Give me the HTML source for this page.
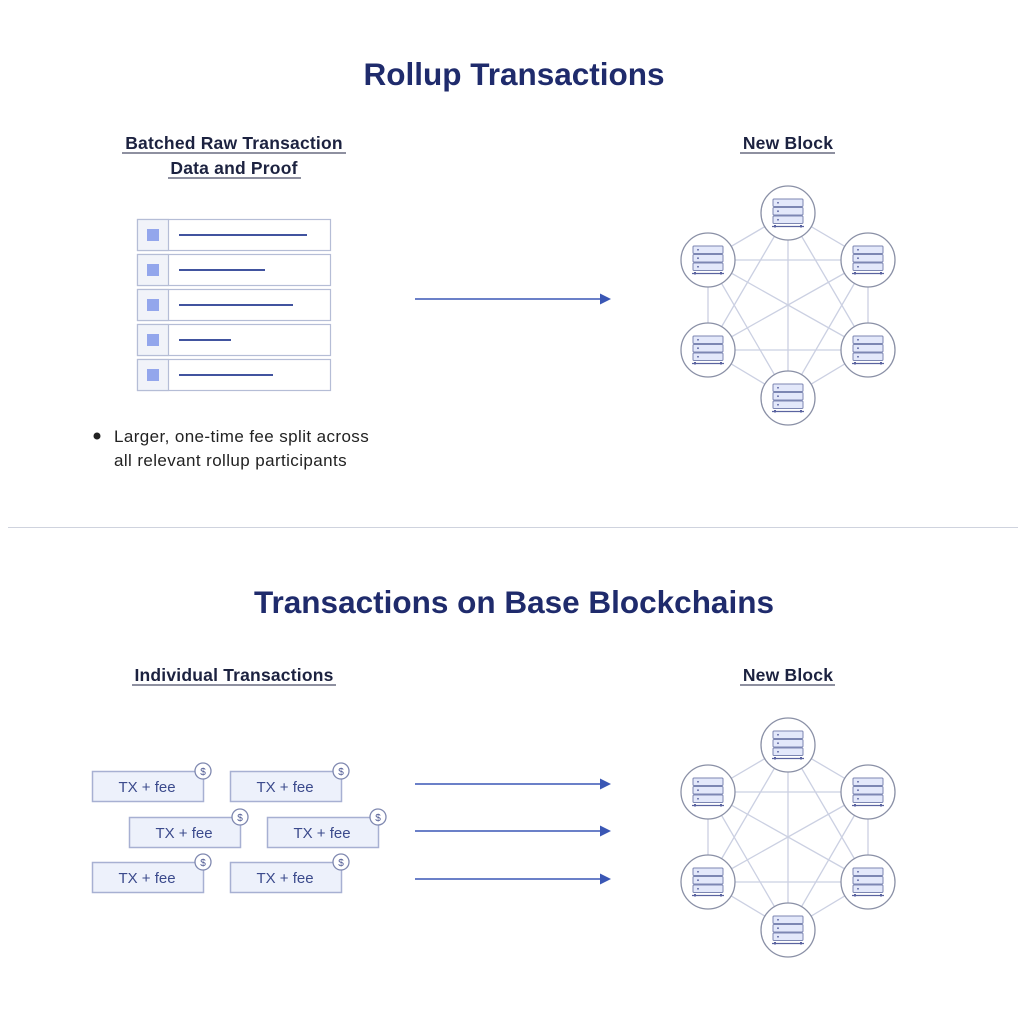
<!DOCTYPE html>
<html><head><meta charset="utf-8"><style>
body{margin:0;background:#fff;}
svg{display:block;}
text{font-family:"Liberation Sans",sans-serif;}
</style></head><body>
<svg width="1029" height="1011" viewBox="0 0 1029 1011" xmlns="http://www.w3.org/2000/svg">
<defs>
<g id="node">
<circle cx="0" cy="0" r="27" fill="#fff" stroke="#8a90a6" stroke-width="1.3"/>
<rect x="-15" y="-14" width="30" height="7.5" rx="1" fill="#e3e8fa" stroke="#7c86b2" stroke-width="1"/>
<rect x="-15" y="-5.5" width="30" height="7.5" rx="1" fill="#e3e8fa" stroke="#7c86b2" stroke-width="1"/>
<rect x="-15" y="3" width="30" height="7.5" rx="1" fill="#e3e8fa" stroke="#7c86b2" stroke-width="1"/>
<circle cx="-10" cy="-10.2" r="0.9" fill="#5a63a0"/>
<circle cx="-10" cy="-1.8" r="0.9" fill="#5a63a0"/>
<circle cx="-10" cy="6.8" r="0.9" fill="#5a63a0"/>
<line x1="-16" y1="13.5" x2="16" y2="13.5" stroke="#5a63a0" stroke-width="1.2"/>
<rect x="-14" y="12" width="2" height="2.5" fill="#5a63a0"/>
<rect x="12" y="12" width="2" height="2.5" fill="#5a63a0"/>
</g>
<g id="net">
<g stroke="#cbd0e2" stroke-width="1.3">
<line x1="788" y1="213" x2="708" y2="260"/><line x1="788" y1="213" x2="868" y2="260"/>
<line x1="788" y1="213" x2="708" y2="350"/><line x1="788" y1="213" x2="868" y2="350"/>
<line x1="788" y1="213" x2="788" y2="398"/><line x1="708" y1="260" x2="868" y2="260"/>
<line x1="708" y1="260" x2="708" y2="350"/><line x1="708" y1="260" x2="868" y2="350"/>
<line x1="708" y1="260" x2="788" y2="398"/><line x1="868" y1="260" x2="708" y2="350"/>
<line x1="868" y1="260" x2="868" y2="350"/><line x1="868" y1="260" x2="788" y2="398"/>
<line x1="708" y1="350" x2="868" y2="350"/><line x1="708" y1="350" x2="788" y2="398"/>
<line x1="868" y1="350" x2="788" y2="398"/>
</g>
<use href="#node" x="788" y="213"/><use href="#node" x="708" y="260"/>
<use href="#node" x="868" y="260"/><use href="#node" x="708" y="350"/>
<use href="#node" x="868" y="350"/><use href="#node" x="788" y="398"/>
</g>
<g id="arrow">
<line x1="415" y1="0" x2="602" y2="0" stroke="#3a57b5" stroke-width="1.6"/>
<polygon points="600,-5.5 611,0 600,5.5" fill="#3a57b5"/>
</g>
<g id="tx">
<rect x="0.5" y="0.5" width="111" height="30" fill="#edf1fb" stroke="#a7b0d2" stroke-width="1.5"/>
<text x="55" y="21" font-size="15" fill="#3b4a8c" text-anchor="middle">TX + fee</text>
<circle cx="111" cy="0" r="8" fill="#fff" stroke="#7f88b0" stroke-width="1.3"/>
<text x="111" y="4" font-size="10" fill="#4f5a93" text-anchor="middle">$</text>
</g>
<g id="row">
<rect x="137.5" y="0.5" width="193" height="31" fill="#fff" stroke="#b5bdd6" stroke-width="1.2"/>
<rect x="137.5" y="0.5" width="31" height="31" fill="#f1f3f9" stroke="#b5bdd6" stroke-width="1.2"/>
<rect x="147" y="10" width="12" height="12" fill="#93a6ec"/>
</g>
</defs>

<text x="514" y="85" font-size="31.5" font-weight="bold" fill="#1f2b6c" text-anchor="middle">Rollup Transactions</text>
<g font-size="17.5" font-weight="bold" fill="#1c2240" text-anchor="middle" letter-spacing="0.2">
<text x="234" y="149">Batched Raw Transaction</text>
<text x="234" y="174">Data and Proof</text>
<text x="788" y="149">New Block</text>
</g>
<g stroke="#1c2240" stroke-width="1">
<line x1="122" y1="153" x2="346" y2="153"/><line x1="168" y1="178" x2="301" y2="178"/>
<line x1="740" y1="153" x2="835" y2="153"/>
</g>

<use href="#row" y="219"/><use href="#row" y="254"/><use href="#row" y="289"/><use href="#row" y="324"/><use href="#row" y="359"/>
<g stroke="#41539f" stroke-width="2">
<line x1="179" y1="235" x2="307" y2="235"/>
<line x1="179" y1="270" x2="265" y2="270"/>
<line x1="179" y1="305" x2="293" y2="305"/>
<line x1="179" y1="340" x2="231" y2="340"/>
<line x1="179" y1="375" x2="273" y2="375"/>
</g>

<use href="#arrow" y="299"/>
<use href="#net"/>

<circle cx="97" cy="436" r="3.5" fill="#222"/>
<g font-size="17" fill="#222" letter-spacing="0.4">
<text x="114" y="442">Larger, one-time fee split across</text>
<text x="114" y="466">all relevant rollup participants</text>
</g>

<line x1="8" y1="527.5" x2="1018" y2="527.5" stroke="#cfd3de" stroke-width="1"/>

<text x="514" y="613" font-size="31.5" font-weight="bold" fill="#1f2b6c" text-anchor="middle">Transactions on Base Blockchains</text>
<g font-size="17.5" font-weight="bold" fill="#1c2240" text-anchor="middle" letter-spacing="0.2">
<text x="234" y="681">Individual Transactions</text>
<text x="788" y="681">New Block</text>
</g>
<g stroke="#1c2240" stroke-width="1">
<line x1="132" y1="685" x2="336" y2="685"/>
<line x1="740" y1="685" x2="835" y2="685"/>
</g>

<use href="#tx" x="92" y="771"/><use href="#tx" x="230" y="771"/>
<use href="#tx" x="129" y="817"/><use href="#tx" x="267" y="817"/>
<use href="#tx" x="92" y="862"/><use href="#tx" x="230" y="862"/>

<use href="#arrow" y="784"/><use href="#arrow" y="831"/><use href="#arrow" y="879"/>
<use href="#net" y="532"/>
</svg>
</body></html>
